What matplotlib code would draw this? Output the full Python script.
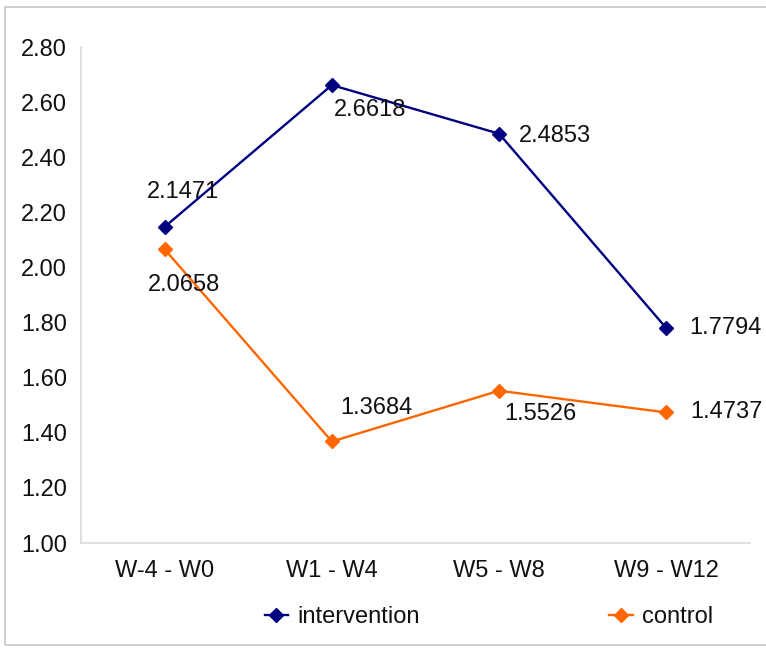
import matplotlib
matplotlib.use("Agg")
import matplotlib.pyplot as plt
from matplotlib.patches import Rectangle
from matplotlib.ticker import FormatStrFormatter

plt.rcParams['font.family'] = ['Liberation Sans', 'DejaVu Sans']

# Datos
periods = ["W-4 - W0", "W1 - W4", "W5 - W8", "W9 - W12"]
intervention = [2.1471, 2.6618, 2.4853, 1.7794]
control = [2.0658, 1.3684, 1.5526, 1.4737]
y_ticks = [1.00, 1.20, 1.40, 1.60, 1.80, 2.00, 2.20, 2.40, 2.60, 2.80]

# Posicion de las etiquetas (pixeles, relativo al punto)
int_offsets = [(-18, 35), (2, -25), (20, -2), (23, 0)]
ctl_offsets = [(-17, -36), (8, 33), (5, -23), (24, 0)]

fig = plt.figure(figsize=(7.66, 6.48), dpi=100)
ax = fig.add_axes([81 / 766, 1 - 543 / 648, (750 - 81) / 766, (543 - 47) / 648])

# Marco del grafico
fig.patches.append(Rectangle((5 / 766, 3 / 648), 1.2, 1 - 10 / 648, transform=fig.transFigure,
                             fill=False, edgecolor='#c8c8c8', linewidth=1.2))

x = range(len(periods))
ax.plot(x, intervention, color='#000080', marker='D', markersize=6.8, linewidth=1.7,
        label='intervention')
ax.plot(x, control, color='#FF6600', marker='D', markersize=6.8, linewidth=1.7,
        label='control')

for i, v in enumerate(intervention):
    dx, dy = int_offsets[i]
    ax.annotate(f"{v:.4f}", (i, v), xytext=(dx, dy), textcoords='offset pixels',
                ha='left', va='center', fontsize=17, color='#111111')
for i, v in enumerate(control):
    dx, dy = ctl_offsets[i]
    ax.annotate(f"{v:.4f}", (i, v), xytext=(dx, dy), textcoords='offset pixels',
                ha='left', va='center', fontsize=17, color='#111111')

ax.set_xlim(-0.5, 3.5)
ax.set_ylim(1.0, 2.8)
ax.set_yticks(y_ticks)
ax.yaxis.set_major_formatter(FormatStrFormatter('%.2f'))
ax.set_xticks(list(x))
ax.set_xticklabels(periods)
ax.tick_params(axis='both', length=0, labelsize=17, colors='#111111')
ax.tick_params(axis='y', pad=10)
ax.tick_params(axis='x', pad=12)

for s in ['top', 'right']:
    ax.spines[s].set_visible(False)
for s in ['left', 'bottom']:
    ax.spines[s].set_color('#d9d9d9')
    ax.spines[s].set_linewidth(1.2)

fig.legend(loc='center', bbox_to_anchor=(489 / 766, 1 - 617 / 648), ncol=2, frameon=False,
           fontsize=17, handlelength=1.0, handletextpad=0.4, columnspacing=8.0,
           labelcolor='#111111', markerscale=1.1)

fig.savefig("out.png", dpi=100)
